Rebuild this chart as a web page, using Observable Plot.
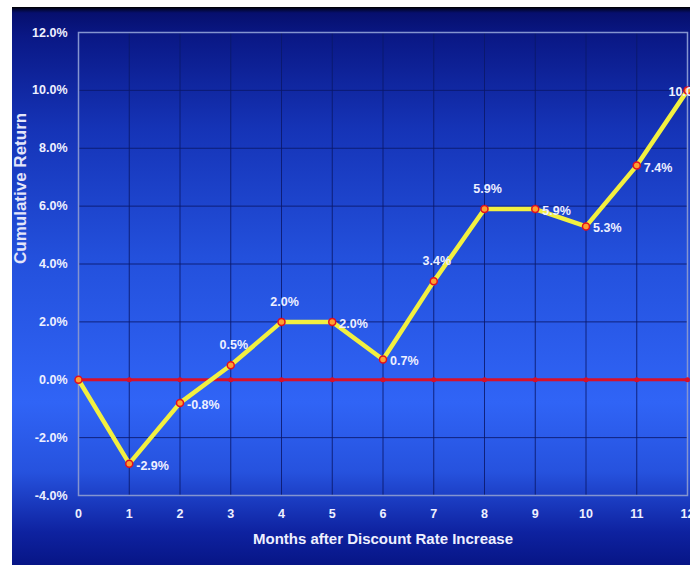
<!DOCTYPE html>
<html><head><meta charset="utf-8">
<script src="https://cdn.jsdelivr.net/npm/d3@7"></script>
<script src="https://cdn.jsdelivr.net/npm/@observablehq/plot@0.6"></script>
<style>
html,body{margin:0;padding:0;background:#fff;}
#panel{position:absolute;left:12px;top:7px;width:678px;height:558px;overflow:hidden;
background:linear-gradient(to bottom,#000000 0px,#02062e 2px,#060f6e 6px,#0a1886 30px,#1533b6 120px,#2350dc 250px,#3064f6 395px,#2652de 465px,#0e22a0 525px,#071586 558px);}
</style></head><body><div id="panel"></div>
<script>
const months = [0,1,2,3,4,5,6,7,8,9,10,11,12];
const cumulativeReturn = [0.0,-2.9,-0.8,0.5,2.0,2.0,0.7,3.4,5.9,5.9,5.3,7.4,10.0];
const yTicks = [-4,-2,0,2,4,6,8,10,12];
const xTitle = "Months after Discount Rate Increase";
const yTitle = "Cumulative Return";

const data = months.map((m, i) => ({m, v: cumulativeReturn[i], i}));
const fmt = v => v.toFixed(1) + "%";
const aboveIdx = new Set([3,4,7,8]);
const rightIdx = new Set([1,2,5,6,9,10,11]);
const edgeIdx = new Set([12]);
const font = "'Liberation Sans',Arial,sans-serif";
const textCol = "#eef0ff";

const chart = Plot.plot({
  width: 678, height: 558,
  marginLeft: 66, marginRight: 3, marginTop: 25, marginBottom: 70,
  style: {background: "transparent", fontFamily: font, fontWeight: "bold", fontSize: "12px", color: textCol, overflow: "hidden"},
  x: {domain: [0, 12]},
  y: {domain: [-4, 12]},
  marks: [
    Plot.gridX(months, {stroke: "#0a176a", strokeOpacity: 0.85, strokeWidth: 1}),
    Plot.gridY(yTicks, {stroke: "#0a176a", strokeOpacity: 0.85, strokeWidth: 1}),
    Plot.frame({stroke: "#8494d0", strokeWidth: 1.5}),
    Plot.axisY(yTicks, {tickSize: 0, tickPadding: 11, tickFormat: fmt, label: null, fill: textCol, fontSize: 12.5, fontFamily: font}),
    Plot.axisX(months, {tickSize: 0, tickPadding: 14, tickFormat: d => String(d), label: null, fill: textCol, fontSize: 12.5, fontFamily: font}),
    Plot.ruleY([0], {stroke: "#d8102a", strokeWidth: 3}),
    Plot.dot(months, {x: d => d, y: () => 0, r: 2.5, fill: "#d8102a", stroke: null}),
    Plot.line(data, {x: "m", y: "v", stroke: "#f2f040", strokeWidth: 4.5}),
    Plot.dot(data, {x: "m", y: "v", r: 3.5, fill: "#ffa030", stroke: "#e01020", strokeWidth: 1.5}),
    Plot.text(data.filter(d => rightIdx.has(d.i)), {x: "m", y: "v", text: d => fmt(d.v), textAnchor: "start", dx: 7, dy: 2, fill: textCol, fontSize: 12.5, fontFamily: font}),
    Plot.text(data.filter(d => aboveIdx.has(d.i)), {x: "m", y: "v", text: d => fmt(d.v), textAnchor: "middle", dx: 3, dy: -20, fill: textCol, fontSize: 12.5, fontFamily: font}),
    Plot.text(data.filter(d => edgeIdx.has(d.i)), {x: "m", y: "v", text: d => fmt(d.v), textAnchor: "start", dx: -19, dy: 2, fill: textCol, fontSize: 12.5, fontFamily: font}),
    Plot.text([xTitle], {frameAnchor: "bottom", dy: 48, fill: textCol, fontSize: 15, fontFamily: font}),
    Plot.text([yTitle], {frameAnchor: "left", dx: -58, rotate: -90, fill: "#e4e6fa", fontSize: 17, fontFamily: font})
  ]
});
document.getElementById("panel").appendChild(chart);
</script>
</body></html>
